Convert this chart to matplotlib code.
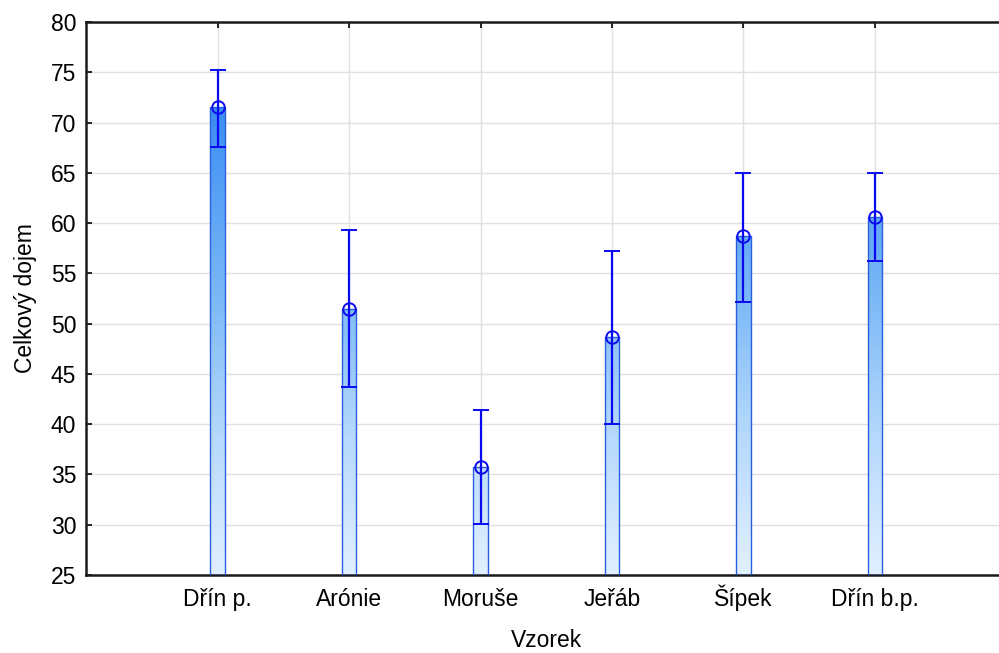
import numpy as np
import matplotlib.pyplot as plt
from matplotlib.colors import LinearSegmentedColormap
from matplotlib.patches import Rectangle

plt.rcParams['font.family'] = ['Liberation Sans', 'DejaVu Sans']

vzorky = ['Dřín p.', 'Arónie', 'Moruše', 'Jeřáb', 'Šípek', 'Dřín b.p.']
prumer = [71.5, 51.5, 35.7, 48.7, 58.7, 60.6]
dolni = [67.6, 43.7, 30.1, 40.0, 52.2, 56.2]
horni = [75.2, 59.3, 41.4, 57.2, 65.0, 65.0]

y_min, y_max = 25, 80
pozice = np.arange(1, len(vzorky) + 1)

fig = plt.figure(figsize=(9.99, 6.53), dpi=100)
ax = fig.add_axes([0.0861, 0.1194, 0.9214, 0.8469])

cmap = LinearSegmentedColormap.from_list(
    'modra', [(0, '#e2f0ff'), (0.25, '#b6d9fc'), (0.5, '#7cb9f7'),
              (0.85, '#3a8cf3'), (1, '#2a80f0')])
grad = np.linspace(0, 1, 256).reshape(-1, 1)
sirka = 0.11

for x, m in zip(pozice, prumer):
    rect = Rectangle((x - sirka / 2, y_min), sirka, m - y_min,
                     facecolor='none', edgecolor='#2a5fe0', linewidth=1.0, zorder=3)
    ax.add_patch(rect)
    im = ax.imshow(grad, cmap=cmap, origin='lower', aspect='auto',
                   extent=[x - sirka / 2, x + sirka / 2, y_min, y_max], zorder=2)
    im.set_clip_path(rect)

err = [np.array(prumer) - np.array(dolni), np.array(horni) - np.array(prumer)]
ax.errorbar(pozice, prumer, yerr=err, fmt='o', mfc='none', mec='#0a0af0', ms=9,
            mew=1.4, ecolor='#0a0af0', elinewidth=1.6, capsize=5.5, capthick=1.6, zorder=4)

ax.set_xlim(0, 7)
ax.set_ylim(y_min, y_max)
ax.set_xticks(pozice)
ax.set_xticklabels([])
# popisky na spolecne zakladni care (Š s hackem jinak ujede dolu)
for x, nazev in zip(pozice, vzorky):
    ax.text(x, -31 / 553, nazev, transform=ax.get_xaxis_transform(),
            ha='center', va='baseline', fontsize=16.5)
ax.set_yticks(np.arange(25, 81, 5))
ax.grid(True, color='#e0e0e0', linewidth=1)
ax.set_axisbelow(True)
ax.tick_params(direction='in', top=True, right=False, length=4, width=1.2,
               labelsize=16.5)
ax.tick_params(axis='y', pad=7)
for s in ['left', 'bottom', 'top']:
    ax.spines[s].set_linewidth(1.8)
    ax.spines[s].set_color('#1a1a1a')
ax.spines['right'].set_visible(False)

ax.set_xlabel('Vzorek', fontsize=16.5, labelpad=35)
ax.set_ylabel('Celkový dojem', fontsize=16.5, labelpad=10)

fig.savefig('out.png', dpi=100)
